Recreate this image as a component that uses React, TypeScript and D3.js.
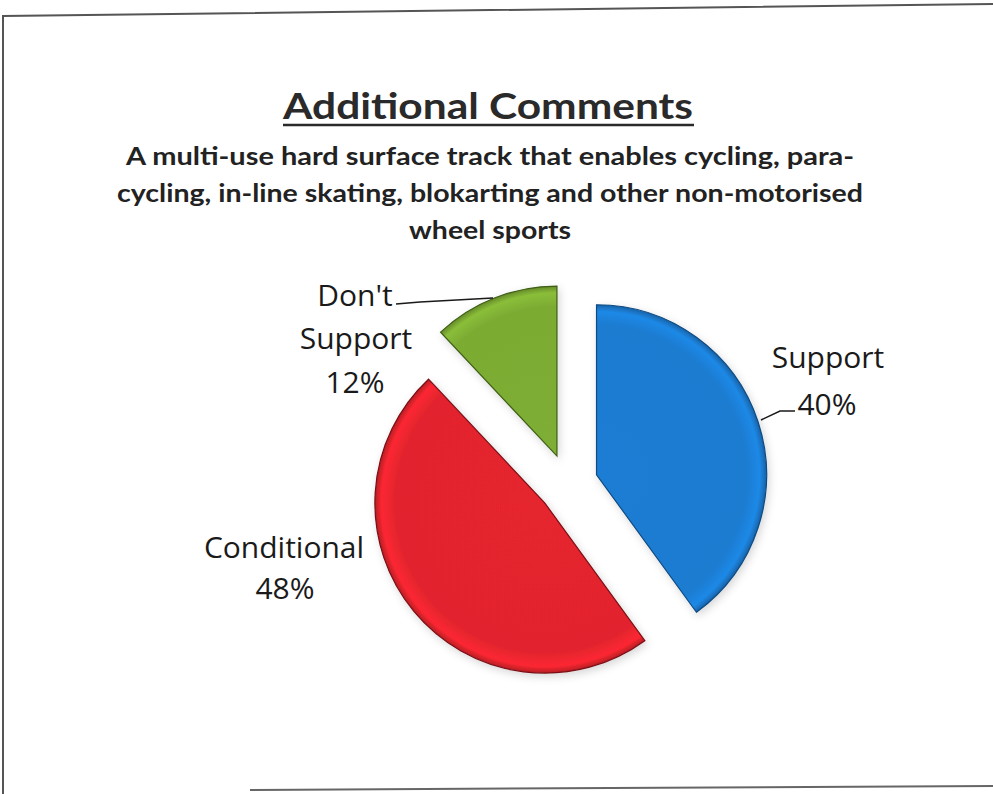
import React from "react";
import * as d3 from "d3";

const categories = ["Support", "Conditional", "Don't Support"];
const values = [40, 48, 12];
const colors = ["#1c7bd0", "#e2242d", "#7cab33"];
const edgeColors = ["#0d4a82", "#7a1016", "#3f5e14"];

const titleText = "Additional Comments";
const subtitleLines = [
  "A multi-use hard surface track that enables cycling, para-",
  "cycling, in-line skating, blokarting and other non-motorised",
  "wheel sports",
];

const W = 993;
const H = 794;
const CX = 568;
const CY = 484;
const R = 170;
const EXPLODE = 30;

export default function App() {
  const pie = d3.pie<number>().sort(null).value((d) => d)(values);
  const arc = d3.arc<d3.PieArcDatum<number>>().innerRadius(0).outerRadius(R);
  const font = "Lato, 'Open Sans', sans-serif";
  const labelFont = "'Open Sans', Lato, sans-serif";

  const offsets = pie.map((p) => {
    const mid = (p.startAngle + p.endAngle) / 2;
    return [Math.sin(mid) * EXPLODE, -Math.cos(mid) * EXPLODE];
  });

  return (
    <svg
      width={W}
      height={H}
      style={{ position: "absolute", left: 0, top: 0, background: "#fff" }}
    >
      <defs>
        <filter id="shadow" x="-20%" y="-20%" width="140%" height="140%">
          <feDropShadow dx="2" dy="3" stdDeviation="4" floodColor="#000" floodOpacity="0.16" />
        </filter>
        {colors.map((c, i) => (
          <radialGradient key={i} id={`g${i}`} cx="0" cy="0" r={R} gradientUnits="userSpaceOnUse">
            <stop offset="0%" stopColor={d3.color(c)!.brighter(0.05).formatHex()} />
            <stop offset="88%" stopColor={c} />
            <stop offset="96%" stopColor={d3.color(c)!.brighter(0.3).formatHex()} />
            <stop offset="100%" stopColor={d3.color(c)!.darker(0.6).formatHex()} />
          </radialGradient>
        ))}
      </defs>

      {/* scanned page border */}
      <polyline points="3,794 3,16 993,4" fill="none" stroke="#555" strokeWidth={2} />
      <line x1={250} y1={790} x2={993} y2={786} stroke="#666" strokeWidth={2} />

      {/* title */}
      <text
        x={488}
        y={119}
        textAnchor="middle"
        fontFamily={font}
        fontWeight={700}
        fontSize={36}
        fill="#2a2a2a"
        textLength={410}
        lengthAdjust="spacingAndGlyphs"
      >
        {titleText}
      </text>
      <line x1={283} y1={125} x2={694} y2={125} stroke="#2a2a2a" strokeWidth={2.5} />

      {subtitleLines.map((l, i) => (
        <text
          key={i}
          x={490}
          y={165 + i * 37}
          textAnchor="middle"
          fontFamily={font}
          fontWeight={700}
          fontSize={25}
          fill="#222"
          textLength={[728, 746, 162][i]}
          lengthAdjust="spacingAndGlyphs"
        >
          {l}
        </text>
      ))}

      {/* pie */}
      <g transform={`translate(${CX},${CY})`}>
        {pie.map((p, i) => (
          <g key={i} transform={`translate(${offsets[i][0]},${offsets[i][1]})`}>
            <path
              d={arc(p) || ""}
              fill={`url(#g${i})`}
              stroke={edgeColors[i]}
              strokeWidth={1.2}
              filter="url(#shadow)"
            />
          </g>
        ))}
      </g>

      {/* labels */}
      <g fontFamily={labelFont} fontSize={30} fill="#1a1a1a" textAnchor="middle">
        <text x={828} y={368}>{categories[0]}</text>
        <text x={827} y={415}>{values[0]}%</text>
        <text x={284} y={558}>{categories[1]}</text>
        <text x={285} y={599}>{values[1]}%</text>
        <text x={355} y={306}>Don't</text>
        <text x={356} y={349}>Support</text>
        <text x={355} y={393}>{values[2]}%</text>
      </g>
      {/* leader lines */}
      <polyline points="761,420 780,411 795,411" fill="none" stroke="#1a1a1a" strokeWidth={1.5} />
      <polyline points="396,304 420,302 493,298" fill="none" stroke="#1a1a1a" strokeWidth={1.5} />
    </svg>
  );
}
